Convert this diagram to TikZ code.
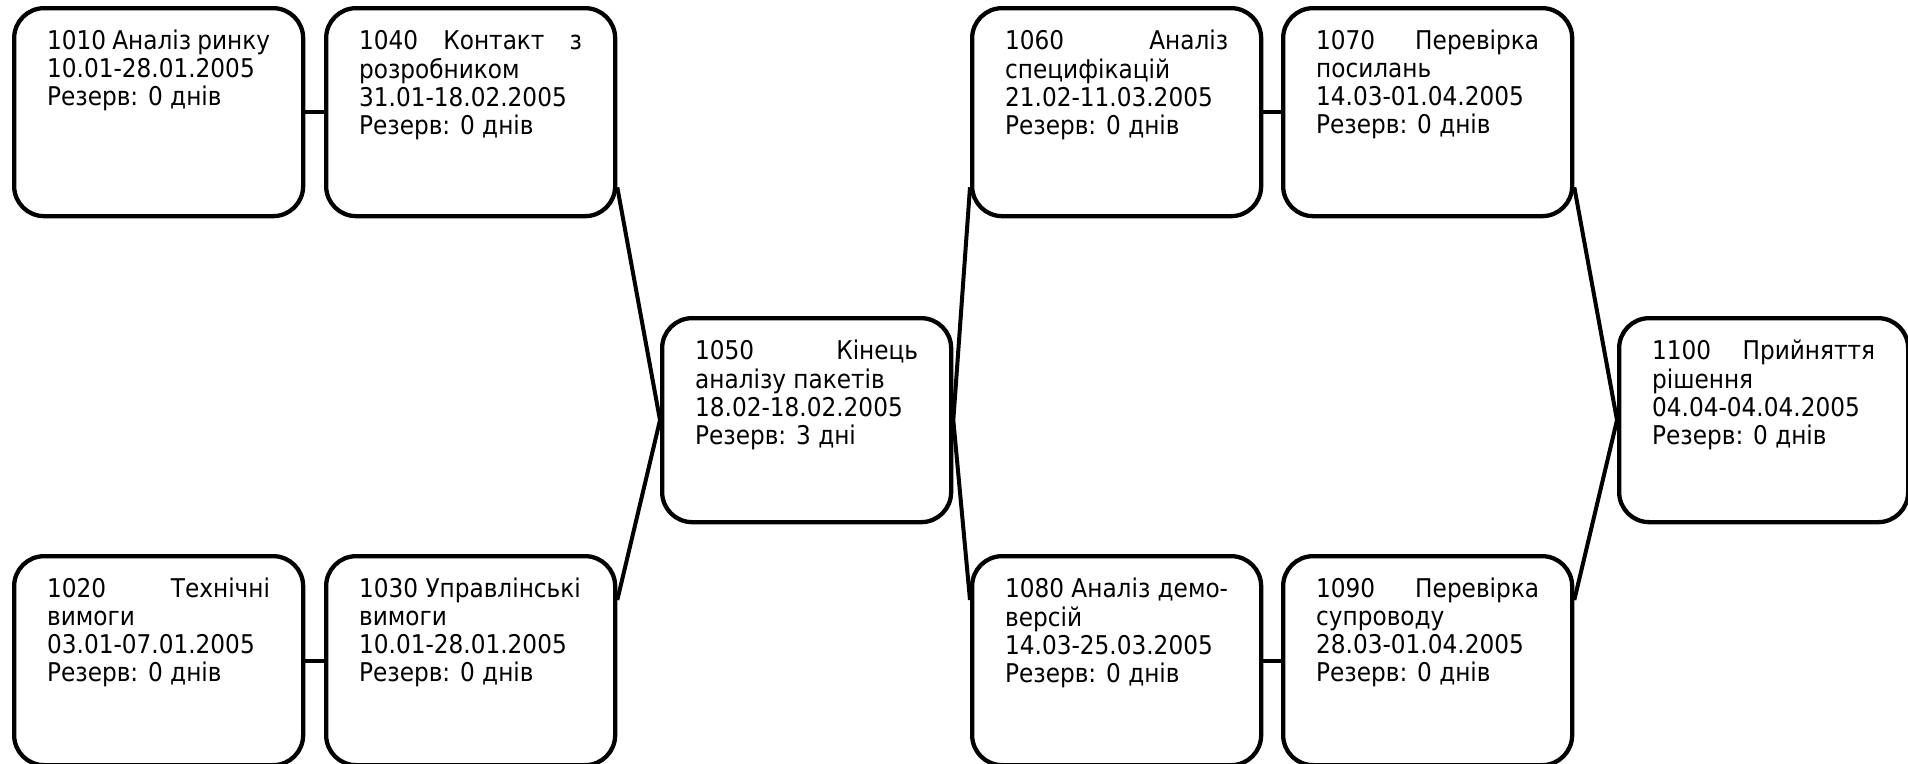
\documentclass[tikz,border=0pt]{standalone}
\usepackage{fontspec}
\setmainfont{DejaVu Sans Condensed}
\newcommand\tasktext[2]{\parbox[c][#1][t]{223pt}{\strut #2}}
\tikzset{
  task/.style={draw, line width=4.3pt, rounded corners=30pt, inner xsep=33pt, inner ysep=21.4pt,
    anchor=north west, font=\fontsize{25.8pt}{28pt}\selectfont},
  link/.style={line width=4pt},
}
\begin{document}
\begin{tikzpicture}[x=1pt,y=-1pt]
\useasboundingbox (0,0) rectangle (1908,763);
% top row
\node[task] (n1010) at (12,6) {\tasktext{165.2pt}{1010 Аналіз ринку\\10.01-28.01.2005\\Резерв: 0 днів}};
\node[task] (n1040) at (324,6) {\tasktext{165.2pt}{1040\hfill Контакт\hfill з\\розробником\\31.01-18.02.2005\\Резерв: 0 днів}};
\node[task] (n1060) at (970,6) {\tasktext{165.2pt}{1060\hfill Аналіз\\специфікацій\\21.02-11.03.2005\\Резерв: 0 днів}};
\node[task] (n1070) at (1281,6) {\tasktext{165.2pt}{1070\hfill Перевірка\\посилань\\14.03-01.04.2005\\Резерв: 0 днів}};
% middle
\node[task] (n1050) at (660,316) {\tasktext{161.2pt}{1050\hfill Кінець\\аналізу пакетів\\18.02-18.02.2005\\Резерв: 3 дні}};
\node[task] (n1100) at (1617,316) {\tasktext{161.2pt}{1100\hfill Прийняття\\рішення\\04.04-04.04.2005\\Резерв: 0 днів}};
% bottom row
\node[task] (n1020) at (12,554) {\tasktext{166.2pt}{1020\hfill Технічні\\вимоги\\03.01-07.01.2005\\Резерв: 0 днів}};
\node[task] (n1030) at (324,554) {\tasktext{166.2pt}{1030 Управлінські\\вимоги\\10.01-28.01.2005\\Резерв: 0 днів}};
\node[task] (n1080) at (970,554) {\tasktext{166.2pt}{1080 Аналіз демо-\\версій\\14.03-25.03.2005\\Резерв: 0 днів}};
\node[task] (n1090) at (1281,554) {\tasktext{166.2pt}{1090\hfill Перевірка\\супроводу\\28.03-01.04.2005\\Резерв: 0 днів}};
% connectors
\draw[link] (n1010.east) -- (n1040.west);
\draw[link] (n1060.east) -- (n1070.west);
\draw[link] (n1020.east) -- (n1030.west);
\draw[link] (n1080.east) -- (n1090.west);
\draw[link] ([yshift=31pt]n1040.south east) -- (n1050.west);
\draw[link] ([yshift=-46pt]n1030.north east) -- (n1050.west);
\draw[link] (n1050.east) -- ([yshift=31pt]n1060.south west);
\draw[link] (n1050.east) -- ([yshift=-46pt]n1080.north west);
\draw[link] ([yshift=31pt]n1070.south east) -- (n1100.west);
\draw[link] ([yshift=-46pt]n1090.north east) -- (n1100.west);
\end{tikzpicture}
\end{document}
